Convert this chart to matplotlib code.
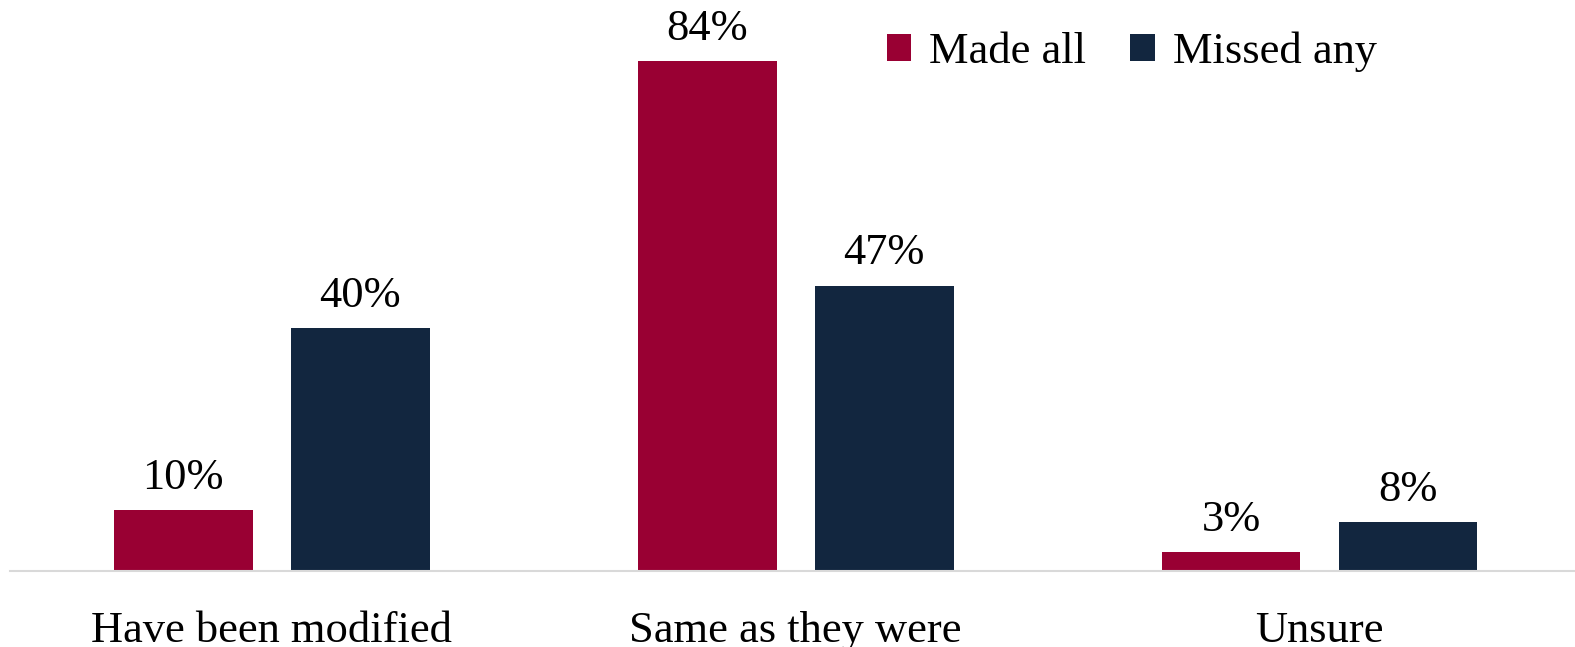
import matplotlib

matplotlib.use("Agg")
import matplotlib.pyplot as plt
import numpy as np

categories = ["Have been modified", "Same as they were", "Unsure"]
made_all = [10, 84, 3]
missed_any = [40, 47, 8]
series_names = ["Made all", "Missed any"]

red = "#990033"
navy = "#12263F"

plt.rcParams["font.family"] = ["Liberation Serif", "DejaVu Serif"]

fig = plt.figure(figsize=(15.75, 6.47), dpi=100)
ax = fig.add_axes((0.0063, 0.118, 0.9978, 0.882))

x = np.arange(len(categories))
width = 0.265
offset = 0.169
bars_red = ax.bar(x - offset, made_all, width, color=red, label=series_names[0])
bars_navy = ax.bar(x + offset, missed_any, width, color=navy, label=series_names[1])

for bars in (bars_red, bars_navy):
    for bar in bars:
        ax.annotate(
            f"{bar.get_height():.0f}%",
            (bar.get_x() + bar.get_width() / 2, bar.get_height()),
            xytext=(0, 9),
            textcoords="offset points",
            ha="center",
            va="bottom",
            fontsize=32,
        )

ax.set_xlim(-0.5, 2.5)
ax.set_ylim(0, 94.1)
ax.set_xticks(x)
ax.set_xticklabels(categories, fontsize=32)
ax.tick_params(axis="x", length=0, pad=29)
ax.set_yticks([])
for side in ("top", "right", "left"):
    ax.spines[side].set_visible(False)
ax.spines["bottom"].set_color("#D9D9D9")
ax.spines["bottom"].set_linewidth(1.5)

ax.legend(
    loc="upper right",
    bbox_to_anchor=(0.895, 1.015),
    ncol=2,
    frameon=False,
    fontsize=32,
    handlelength=0.55,
    handleheight=0.55,
    handletextpad=0.4,
    columnspacing=1.0,
)

fig.savefig("out.png", dpi=100)
